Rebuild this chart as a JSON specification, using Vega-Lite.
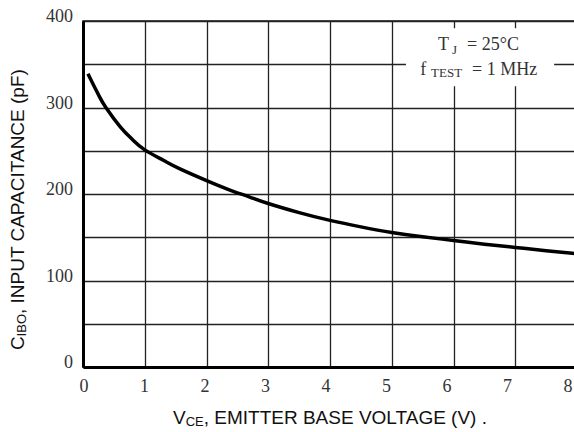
{
  "$schema": "https://vega.github.io/schema/vega-lite/v6.json",
  "width": 494,
  "height": 346,
  "autosize": {"type": "none"},
  "padding": {"left": 83, "top": 21, "right": 0, "bottom": 65},
  "background": "white",
  "config": {
    "view": {"stroke": "#111", "strokeWidth": 1.5},
    "axis": {"grid": true, "gridColor": "#222", "gridWidth": 1.3, "ticks": false, "domainColor": "#000",
      "domainWidth": 3, "labels": false, "title": null}
  },
  "resolve": {"axis": {"x": "independent", "y": "independent"}},
  "datasets": {
    "curve": [
      {"v": 0.08, "c": 339}, {"v": 0.17, "c": 326}, {"v": 0.27, "c": 312}, {"v": 0.37, "c": 300},
      {"v": 0.6, "c": 278}, {"v": 0.8, "c": 263}, {"v": 1.0, "c": 251}, {"v": 1.3, "c": 239},
      {"v": 1.57, "c": 229}, {"v": 2.05, "c": 214}, {"v": 2.4, "c": 204}, {"v": 2.7, "c": 196.5},
      {"v": 3.0, "c": 189}, {"v": 3.5, "c": 178.5}, {"v": 4.0, "c": 169.5}, {"v": 4.5, "c": 162},
      {"v": 5.0, "c": 155.5}, {"v": 5.5, "c": 150.5}, {"v": 6.0, "c": 146.3}, {"v": 6.5, "c": 142},
      {"v": 7.0, "c": 138.2}, {"v": 7.5, "c": 134.5}, {"v": 8.0, "c": 131}
    ],
    "box": [{"x1": 5.23, "x2": 7.63, "y1": 391.5, "y2": 324.5}],
    "ann": [
      {"g": "note", "x": 5.75, "y": 371.8, "t": "T"},
      {"g": "note", "x": 6.22, "y": 371.8, "t": "= 25°C"},
      {"g": "note", "x": 5.46, "y": 343, "t": "f"},
      {"g": "note", "x": 6.30, "y": 343, "t": "= 1 MHz"},
      {"g": "notesub", "x": 5.976, "y": 366, "t": "J"},
      {"g": "notesub", "x": 5.636, "y": 339.5, "t": "TEST"},
      {"g": "xtitle", "x": 1.457, "y": -58.9, "t": "V"},
      {"g": "xtitle", "x": 1.955, "y": -58.9, "t": ", EMITTER BASE VOLTAGE (V) ."},
      {"g": "xsub", "x": 1.663, "y": -63.5, "t": "CE"},
      {"g": "ytitle", "x": -1.06, "y": 19.6, "t": "C"},
      {"g": "ytitle", "x": -1.06, "y": 61.2, "t": ", INPUT CAPACITANCE (pF)"},
      {"g": "ysub", "x": -0.99, "y": 35.4, "t": "IBO"},
      {"g": "xtick", "x": 0.016, "y": -23.1, "t": "0"},
      {"g": "xtick", "x": 0.996, "y": -23.1, "t": "1"},
      {"g": "xtick", "x": 1.976, "y": -23.1, "t": "2"},
      {"g": "xtick", "x": 2.955, "y": -23.1, "t": "3"},
      {"g": "xtick", "x": 3.935, "y": -23.1, "t": "4"},
      {"g": "xtick", "x": 4.915, "y": -23.1, "t": "5"},
      {"g": "xtick", "x": 5.895, "y": -23.1, "t": "6"},
      {"g": "xtick", "x": 6.874, "y": -23.1, "t": "7"},
      {"g": "xtick", "x": 7.854, "y": -23.1, "t": "8"},
      {"g": "ytick", "x": -0.162, "y": 4.6, "t": "0"},
      {"g": "ytick", "x": -0.162, "y": 104.6, "t": "100"},
      {"g": "ytick", "x": -0.162, "y": 204.6, "t": "200"},
      {"g": "ytick", "x": -0.162, "y": 304.6, "t": "300"},
      {"g": "ytick", "x": -0.162, "y": 404.6, "t": "400"}
    ]
  },
  "layer": [
    {
      "data": {"name": "curve"},
      "mark": {"type": "line", "color": "#000", "strokeWidth": 3.5, "interpolate": "natural", "clip": true},
      "encoding": {
        "x": {"field": "v", "type": "quantitative", "title": null,
          "scale": {"domain": [0, 8], "nice": false, "zero": false},
          "axis": {"values": [0, 1, 2, 3, 4, 5, 6, 7, 8], "labels": false}},
        "y": {"field": "c", "type": "quantitative", "title": null,
          "scale": {"domain": [0, 400], "nice": false, "zero": false},
          "axis": {"values": [0, 50, 100, 150, 200, 250, 300, 350, 400], "labels": false}}
      }
    },
    {
      "data": {"name": "box"},
      "mark": {"type": "rect", "fill": "white", "stroke": null},
      "encoding": {
        "x": {"field": "x1", "type": "quantitative", "axis": null},
        "x2": {"field": "x2"},
        "y": {"field": "y1", "type": "quantitative", "axis": null},
        "y2": {"field": "y2"}
      }
    },
    {
      "data": {"name": "ann"},
      "transform": [{"filter": "datum.g === 'note'"}],
      "mark": {"type": "text", "font": "Liberation Serif", "fontSize": 18, "align": "left", "baseline": "middle", "color": "#333"},
      "encoding": {
        "x": {"field": "x", "type": "quantitative", "axis": null},
        "y": {"field": "y", "type": "quantitative", "axis": null},
        "text": {"field": "t"}
      }
    },
    {
      "data": {"name": "ann"},
      "transform": [{"filter": "datum.g === 'xtick'"}],
      "mark": {"type": "text", "font": "Liberation Serif", "fontSize": 18, "align": "center", "baseline": "middle", "color": "#333"},
      "encoding": {
        "x": {"field": "x", "type": "quantitative", "axis": null},
        "y": {"field": "y", "type": "quantitative", "axis": null},
        "text": {"field": "t"}
      }
    },
    {
      "data": {"name": "ann"},
      "transform": [{"filter": "datum.g === 'ytick'"}],
      "mark": {"type": "text", "font": "Liberation Serif", "fontSize": 18, "align": "right", "baseline": "middle", "color": "#333"},
      "encoding": {
        "x": {"field": "x", "type": "quantitative", "axis": null},
        "y": {"field": "y", "type": "quantitative", "axis": null},
        "text": {"field": "t"}
      }
    },
    {
      "data": {"name": "ann"},
      "transform": [{"filter": "datum.g === 'notesub'"}],
      "mark": {"type": "text", "font": "Liberation Serif", "fontSize": 13, "align": "left", "baseline": "middle", "color": "#333"},
      "encoding": {
        "x": {"field": "x", "type": "quantitative", "axis": null},
        "y": {"field": "y", "type": "quantitative", "axis": null},
        "text": {"field": "t"}
      }
    },
    {
      "data": {"name": "ann"},
      "transform": [{"filter": "datum.g === 'xtitle'"}],
      "mark": {"type": "text", "font": "Liberation Sans", "fontSize": 19, "align": "left", "baseline": "middle", "color": "#111"},
      "encoding": {
        "x": {"field": "x", "type": "quantitative", "axis": null},
        "y": {"field": "y", "type": "quantitative", "axis": null},
        "text": {"field": "t"}
      }
    },
    {
      "data": {"name": "ann"},
      "transform": [{"filter": "datum.g === 'xsub'"}],
      "mark": {"type": "text", "font": "Liberation Sans", "fontSize": 13, "align": "left", "baseline": "middle", "color": "#111"},
      "encoding": {
        "x": {"field": "x", "type": "quantitative", "axis": null},
        "y": {"field": "y", "type": "quantitative", "axis": null},
        "text": {"field": "t"}
      }
    },
    {
      "data": {"name": "ann"},
      "transform": [{"filter": "datum.g === 'ytitle'"}],
      "mark": {"type": "text", "font": "Liberation Sans", "fontSize": 19, "align": "left", "baseline": "middle", "angle": 270, "color": "#111"},
      "encoding": {
        "x": {"field": "x", "type": "quantitative", "axis": null},
        "y": {"field": "y", "type": "quantitative", "axis": null},
        "text": {"field": "t"}
      }
    },
    {
      "data": {"name": "ann"},
      "transform": [{"filter": "datum.g === 'ysub'"}],
      "mark": {"type": "text", "font": "Liberation Sans", "fontSize": 13, "align": "left", "baseline": "middle", "angle": 270, "color": "#111"},
      "encoding": {
        "x": {"field": "x", "type": "quantitative", "axis": null},
        "y": {"field": "y", "type": "quantitative", "axis": null},
        "text": {"field": "t"}
      }
    }
  ]
}
